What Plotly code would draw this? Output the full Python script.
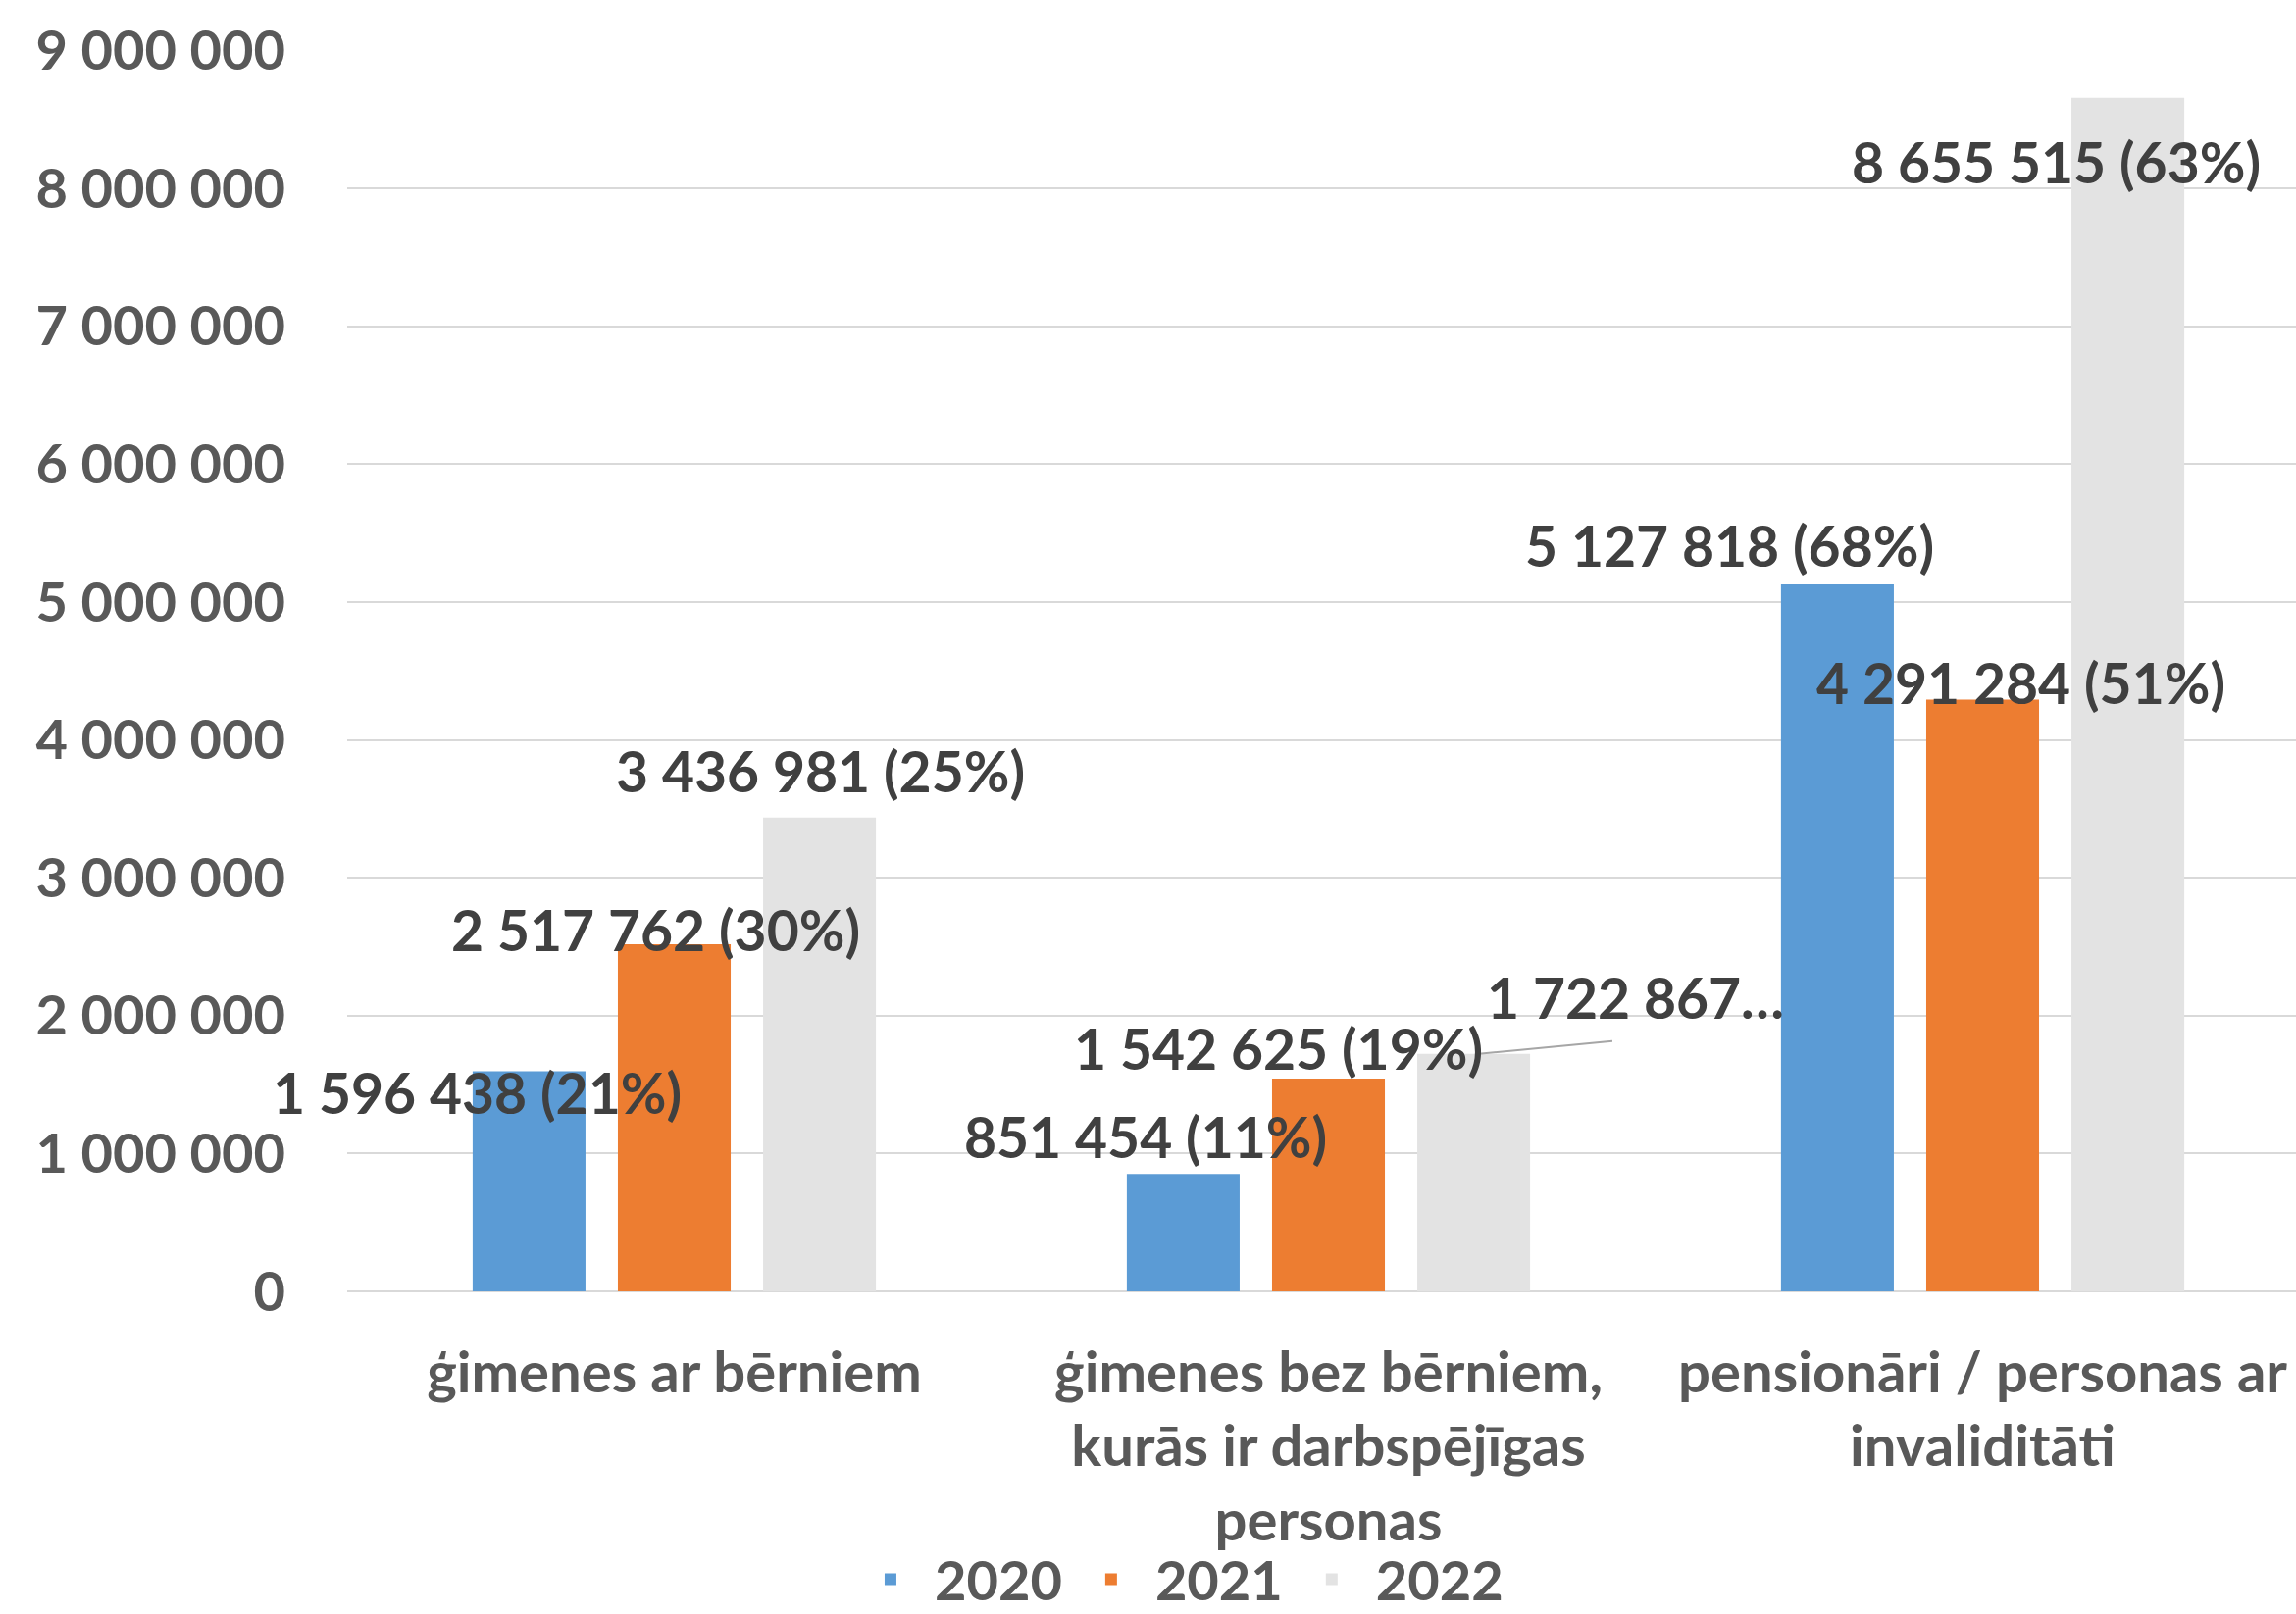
import plotly.graph_objects as go

categories = [
    "ģimenes ar bērniem",
    "ģimenes bez bērniem,<br>kurās ir darbspējīgas<br>personas",
    "pensionāri / personas ar<br>invaliditāti",
]
years = ["2020", "2021", "2022"]
values_2020 = [1596438, 851454, 5127818]
values_2021 = [2517762, 1542625, 4291284]
values_2022 = [3436981, 1722867, 8655515]
pct_2020 = [21, 11, 68]
pct_2021 = [30, 19, 51]
pct_2022 = [25, 19, 63]
y_ticks = [0, 1000000, 2000000, 3000000, 4000000, 5000000, 6000000, 7000000, 8000000, 9000000]

colors = ["#5B9BD5", "#ED7D31", "#E3E3E3"]
FONT = "Lato"
TXT = "#404040"
AX = "#595959"

series = [values_2020, values_2021, values_2022]
pcts = [pct_2020, pct_2021, pct_2022]

fig = go.Figure()
idx = list(range(len(categories)))
for name, vals, col in zip(years, series, colors):
    fig.add_trace(go.Bar(x=idx, y=vals, name=name, marker=dict(color=col, line=dict(width=0))))

def fmt(v):
    return f"{v:,}".replace(",", " ")

# label offsets (category units) and label heights, as placed manually in the original
label_dx = [
    [-0.302, 0.720 - 1, 1.613 - 2],
    [-0.029, 0.924 - 1, 2.058 - 2],
    [0.224, 1.470 - 1, 2.112 - 2],
]
label_y = [
    [1443000, 1125000, 5413000],
    [2621000, 1762000, 4415000],
    [3778000, 2133000, 8193000],
]
annotations = []
for s in range(3):
    for c in range(3):
        txt = f"{fmt(series[s][c])} ({pcts[s][c]}%)"
        if s == 2 and c == 1:
            txt = f"{fmt(series[s][c])}…"
        annotations.append(dict(
            x=c + label_dx[s][c], y=label_y[s][c], xref="x", yref="y",
            text=txt, showarrow=False, xanchor="center", yanchor="middle",
            font=dict(family=FONT, size=57, color=TXT, weight="bold"),
        ))

shapes = [dict(type="line", xref="x", yref="y",
               x0=1.230, y0=values_2022[1], x1=1.434, y1=1815000,
               line=dict(color="#A6A6A6", width=2))]

fig.update_layout(
    width=2341, height=1646,
    margin=dict(l=354, r=0, t=51, b=329, autoexpand=False),
    paper_bgcolor="white", plot_bgcolor="white",
    barmode="group", bargap=0.334, bargroupgap=0.223,
    separators=". ",
    font=dict(family=FONT, size=54, color=AX, weight="bold"),
    showlegend=True,
    legend=dict(orientation="h", x=0.426, y=-0.232, xanchor="center", yanchor="middle",
                bgcolor="rgba(0,0,0,0)",
                font=dict(family=FONT, size=56, color=AX, weight="bold"), itemwidth=80, tracegroupgap=0),
    annotations=annotations,
    shapes=shapes,
)
fig.update_xaxes(
    tickmode="array", tickvals=idx, ticktext=categories,
    range=[-0.5, 2.479], showgrid=False, zeroline=False, automargin=False,
    showline=False, ticks="", ticklabelstandoff=44,
    tickfont=dict(family=FONT, size=58, color=AX, weight="bold"),
)
fig.update_yaxes(
    range=[0, 9003000], tickvals=y_ticks, tickformat=",d", automargin=False,
    showgrid=True, gridcolor="#D9D9D9", gridwidth=2,
    zeroline=True, zerolinecolor="#D9D9D9", zerolinewidth=2,
    showline=False, ticks="", ticklabelstandoff=62,
    tickfont=dict(family=FONT, size=56, color=AX, weight="bold"),
)

fig.write_html("out.html", config={"displayModeBar": False},
               post_script="document.body.style.margin='0';document.body.style.overflow='hidden';")
